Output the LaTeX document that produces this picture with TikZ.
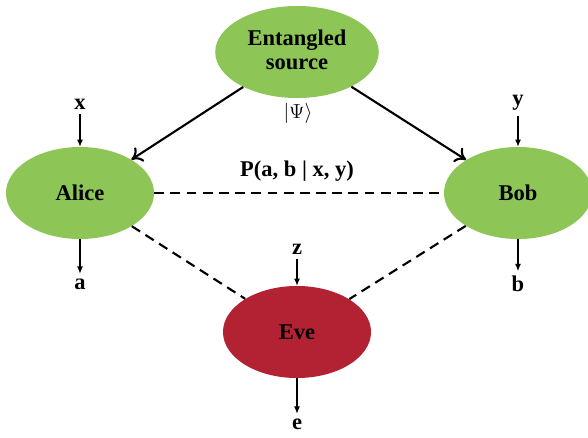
\documentclass[tikz,border=0pt]{standalone}
\usepackage{fontspec}
\setmainfont{Liberation Serif}
\usepackage{tikz}
\usetikzlibrary{shapes.geometric, arrows.meta, positioning}
\definecolor{partygreen}{RGB}{141,198,87}
\definecolor{evered}{RGB}{178,34,50}
\tikzset{
	party/.style={ellipse, fill=partygreen, inner sep=0pt, minimum width=3.7cm, minimum height=2.3cm, font=\fontsize{16}{18}\selectfont\bfseries},
	lbl/.style={font=\fontsize{16}{18}\selectfont\bfseries},
	inarrow/.style={-{Latex[length=1.8mm,width=1.5mm]}, line width=0.8pt},
	srcarrow/.style={-{To[length=2.6mm,width=4.2mm]}, line width=1.5pt},
	corr/.style={line width=1.5pt, dash pattern=on 7pt off 4.5pt}
}

\begin{document}
\begin{tikzpicture}[x=0.025cm, y=-0.025cm]
      \useasboundingbox (0,0) rectangle (588,437);

      % the parties
      \node[party, minimum width=3.75cm] (source) at (297,52) {\begin{tabular}{c}Entangled\\[-1pt]source\end{tabular}};
      \node[party] (alice) at (80,193) {Alice};
      \node[party] (bob) at (518,193) {Bob};
      \node[party, fill=evered] (eve) at (297,332) {Eve};

      % inputs and outputs
      \node[lbl] (x) at (80,104) {x};
      \node[lbl] (a) at (80,284) {a};
      \node[lbl] (y) at (518,103) {y};
      \node[lbl] (b) at (518,284) {b};
      \node[lbl] (z) at (297,249) {z};
      \node[lbl] (e) at (297,424) {e};
      \foreach \u/\v in {x/alice, y/bob, z/eve} {
        \draw[inarrow] (\u) -- (\v);
      }
      \foreach \u/\v in {alice/a, bob/b, eve/e} {
        \draw[inarrow] (\u) -- (\v);
      }

      % state and distribution
      \node[font=\fontsize{15}{17}\selectfont] (psi) at (298,113) {$|\Psi\rangle$};
      \node[lbl] (pdist) at (297,171) {P(a, b | x, y)};

      % source sends to Alice and Bob
      \draw[srcarrow] (source) -- (alice);
      \draw[srcarrow] (source) -- (bob);

      % correlations
      \draw[corr] (alice) -- (bob);
      \draw[corr] (alice) -- (eve);
      \draw[corr] (bob) -- (eve);
    \end{tikzpicture}
\end{document}
